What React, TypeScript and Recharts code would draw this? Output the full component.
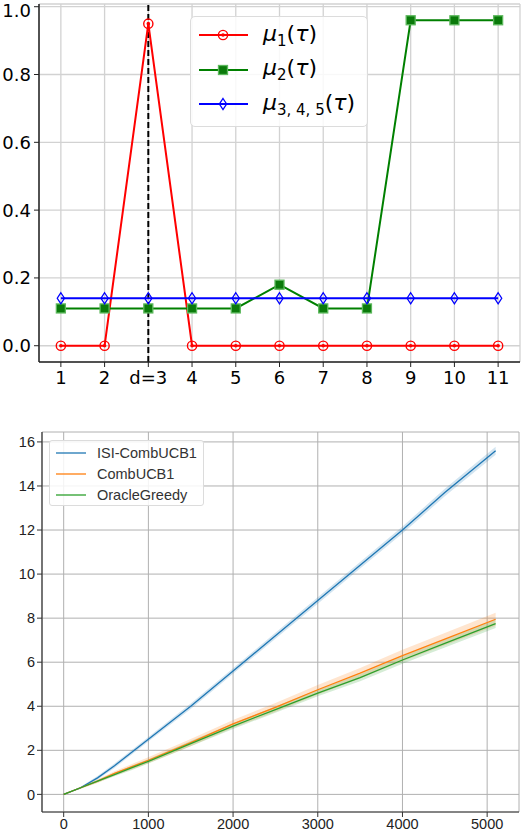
import React from 'react';
import {
  LineChart, Line, XAxis, YAxis, CartesianGrid, ReferenceLine,
  ComposedChart, Area,
} from 'recharts';

// top panel: arm means per phase
const tau = [1, 2, 3, 4, 5, 6, 7, 8, 9, 10, 11];
const tauLabels = ['1', '2', 'd=3', '4', '5', '6', '7', '8', '9', '10', '11'];
const mu1 = [0, 0, 0.95, 0, 0, 0, 0, 0, 0, 0, 0];
const mu2 = [0.11, 0.11, 0.11, 0.11, 0.11, 0.18, 0.11, 0.11, 0.96, 0.96, 0.96];
const mu345 = [0.14, 0.14, 0.14, 0.14, 0.14, 0.14, 0.14, 0.14, 0.14, 0.14, 0.14];
const topYTicks = [0, 0.2, 0.4, 0.6, 0.8, 1.0];
const changePoint = 3;

// bottom panel: cumulative regret
const steps = [0, 200, 400, 600, 800, 1000, 1500, 2000, 2500, 3000, 3500, 4000, 4500, 5100];
const isiComb = [0, 0.3, 0.75, 1.3, 1.9, 2.5, 4.0, 5.6, 7.2, 8.8, 10.4, 12.0, 13.7, 15.6];
const comb = [0, 0.3, 0.6, 0.95, 1.25, 1.55, 2.35, 3.2, 3.95, 4.75, 5.5, 6.3, 7.05, 7.95];
const oracle = [0, 0.3, 0.6, 0.9, 1.2, 1.5, 2.3, 3.1, 3.85, 4.6, 5.3, 6.1, 6.85, 7.75];
const isiSpread = [0, 0.05, 0.08, 0.1, 0.1, 0.1, 0.12, 0.12, 0.14, 0.15, 0.15, 0.16, 0.17, 0.18];
const combSpread = [0, 0.05, 0.08, 0.1, 0.12, 0.14, 0.16, 0.18, 0.2, 0.22, 0.24, 0.26, 0.28, 0.3];
const oracleSpread = [0, 0.04, 0.06, 0.08, 0.1, 0.1, 0.12, 0.13, 0.14, 0.15, 0.16, 0.17, 0.18, 0.2];
const bottomXTicks = [0, 1000, 2000, 3000, 4000, 5000];
const bottomYTicks = [0, 2, 4, 6, 8, 10, 12, 14, 16];

const topData = tau.map((t, i) => ({ t, mu1: mu1[i], mu2: mu2[i], mu345: mu345[i] }));
const bottomData = steps.map((s, i) => ({
  s,
  isi: isiComb[i],
  comb: comb[i],
  oracle: oracle[i],
  isiBand: [isiComb[i] - isiSpread[i], isiComb[i] + isiSpread[i]],
  combBand: [comb[i] - combSpread[i], comb[i] + combSpread[i]],
  oracleBand: [oracle[i] - oracleSpread[i], oracle[i] + oracleSpread[i]],
}));

const C1 = '#1f77b4', C2 = '#ff7f0e', C3 = '#2ca02c';

const CircleMark = ({ cx, cy }: any) => (
  <g>
    <circle cx={cx} cy={cy} r={4.6} fill="none" stroke="#ff0000" strokeWidth={1.4} />
    <circle cx={cx} cy={cy} r={1.8} fill="#ff0000" />
  </g>
);
const SquareMark = ({ cx, cy }: any) => (
  <rect x={cx - 4.5} y={cy - 4.5} width={9} height={9} fill="#0a7a0a" stroke="#5cb85c" strokeWidth={1.3} />
);
const DiamondMark = ({ cx, cy }: any) => (
  <path d={`M${cx},${cy - 5.5}L${cx + 3.6},${cy}L${cx},${cy + 5.5}L${cx - 3.6},${cy}Z`} fill="none" stroke="#0000ff" strokeWidth={1.3} />
);

const topEntries = [
  { color: '#ff0000', Mark: CircleMark, sub: '1' },
  { color: '#008000', Mark: SquareMark, sub: '2' },
  { color: '#0000ff', Mark: DiamondMark, sub: '3, 4, 5' },
];

const TopLegend = () => (
  <div style={{
    position: 'absolute', left: 190, top: 16,
    width: 178, height: 111, boxSizing: 'border-box', border: '1px solid #dcdcdc', borderRadius: 5,
    background: 'rgba(255,255,255,0.85)', paddingTop: 1, fontFamily: 'DejaVu Sans',
  }}>
    {topEntries.map((e, i) => (
      <div key={i} style={{ display: 'flex', alignItems: 'center', height: 34.5 }}>
        <svg width={72} height={20} style={{ flexShrink: 0 }}>
          <line x1={8} x2={57} y1={10} y2={10} stroke={e.color} strokeWidth={2} />
          <e.Mark cx={32} cy={10} />
        </svg>
        <span style={{ fontSize: 22, color: '#000', whiteSpace: 'nowrap' }}>
          <i>μ</i><sub style={{ fontSize: 15 }}>{e.sub}</sub>(<i>τ</i>)
        </span>
      </div>
    ))}
  </div>
);

const bottomEntries = [
  { name: 'ISI-CombUCB1', color: C1 },
  { name: 'CombUCB1', color: C2 },
  { name: 'OracleGreedy', color: C3 },
];

const BottomLegend = () => (
  <div style={{
    position: 'absolute', left: 49, top: 440,
    width: 155, height: 66, boxSizing: 'border-box', border: '1px solid #dcdcdc', borderRadius: 3,
    background: 'rgba(255,255,255,0.85)', paddingTop: 2, fontFamily: 'Liberation Sans, Arial',
  }}>
    {bottomEntries.map((e) => (
      <div key={e.name} style={{ display: 'flex', alignItems: 'center', height: 20.7 }}>
        <svg width={47} height={10} style={{ flexShrink: 0 }}>
          <line x1={6} x2={36} y1={5} y2={5} stroke={e.color} strokeWidth={1.3} />
        </svg>
        <span style={{ fontSize: 14.5, color: '#333' }}>{e.name}</span>
      </div>
    ))}
  </div>
);

export default function App() {
  return (
    <div style={{ position: 'absolute', left: 0, top: 0, width: 522, height: 830, background: '#fff' }}>
      <div style={{ position: 'absolute', left: 0, top: 0 }}>
        <LineChart width={522} height={400} data={topData} margin={{ top: 4, right: 2, bottom: 0, left: 0 }}>
          <CartesianGrid stroke="#d2d2d2" strokeWidth={1.3} />
          <XAxis
            dataKey="t" type="number" domain={[0.5, 11.5]} ticks={tau} height={38}
            tickFormatter={(v) => tauLabels[tau.indexOf(v)]}
            tick={{ fontSize: 18, fill: '#000', fontFamily: 'DejaVu Sans' }}
            tickSize={5} tickMargin={4} stroke="#222" axisLine={{ stroke: '#222', strokeWidth: 1.5 }}
            allowDataOverflow
          />
          <XAxis xAxisId="top" orientation="top" type="number" domain={[0.5, 11.5]} height={0} tick={false} tickLine={false} axisLine={{ stroke: '#222', strokeWidth: 1.5 }} />
          <YAxis
            type="number" domain={[-0.048, 1.008]} ticks={topYTicks} width={39}
            tickFormatter={(v) => v.toFixed(1)}
            tick={{ fontSize: 18, fill: '#000', fontFamily: 'DejaVu Sans' }}
            tickSize={5} tickMargin={3} stroke="#222" axisLine={{ stroke: '#222', strokeWidth: 1.5 }}
            allowDataOverflow
          />
          <YAxis yAxisId="right" orientation="right" width={0} tick={false} tickLine={false} axisLine={{ stroke: '#222', strokeWidth: 1.5 }} />
          <ReferenceLine x={changePoint} stroke="#000" strokeWidth={2} strokeDasharray="6 3" />
          <Line dataKey="mu1" stroke="#ff0000" strokeWidth={2} dot={<CircleMark />} isAnimationActive={false} />
          <Line dataKey="mu2" stroke="#008000" strokeWidth={2} dot={<SquareMark />} isAnimationActive={false} />
          <Line dataKey="mu345" stroke="#0000ff" strokeWidth={2} dot={<DiamondMark />} isAnimationActive={false} />
        </LineChart>
      </div>
      <TopLegend />
      <div style={{ position: 'absolute', left: 0, top: 410 }}>
        <ComposedChart width={522} height={420} data={bottomData} margin={{ top: 22, right: 3, bottom: 0, left: 0 }}>
          <CartesianGrid stroke="#b0b0b0" strokeWidth={1} />
          <XAxis
            dataKey="s" type="number" domain={[-256, 5376]} ticks={bottomXTicks} height={18}
            tick={{ fontSize: 14.5, fill: '#222', fontFamily: 'Liberation Sans, Arial' }}
            tickSize={5} tickMargin={2} stroke="#333" axisLine={{ stroke: '#333', strokeWidth: 1.2 }}
            allowDataOverflow
          />
          <XAxis xAxisId="top" orientation="top" type="number" domain={[-256, 5376]} height={0} tick={false} tickLine={false} axisLine={{ stroke: '#333', strokeWidth: 1.2 }} />
          <YAxis
            type="number" domain={[-0.8, 16.45]} ticks={bottomYTicks} width={42}
            tick={{ fontSize: 14.5, fill: '#222', fontFamily: 'Liberation Sans, Arial' }}
            tickSize={5} tickMargin={2} stroke="#333" axisLine={{ stroke: '#333', strokeWidth: 1.2 }}
            allowDataOverflow
          />
          <YAxis yAxisId="right" orientation="right" width={0} tick={false} tickLine={false} axisLine={{ stroke: '#333', strokeWidth: 1.2 }} />
          <Area dataKey="isiBand" stroke="none" fill={C1} fillOpacity={0.2} isAnimationActive={false} />
          <Area dataKey="combBand" stroke="none" fill={C2} fillOpacity={0.2} isAnimationActive={false} />
          <Area dataKey="oracleBand" stroke="none" fill={C3} fillOpacity={0.2} isAnimationActive={false} />
          <Line dataKey="isi" stroke={C1} strokeWidth={1.3} dot={false} isAnimationActive={false} />
          <Line dataKey="comb" stroke={C2} strokeWidth={1.3} dot={false} isAnimationActive={false} />
          <Line dataKey="oracle" stroke={C3} strokeWidth={1.3} dot={false} isAnimationActive={false} />
        </ComposedChart>
      </div>
      <BottomLegend />
    </div>
  );
}
